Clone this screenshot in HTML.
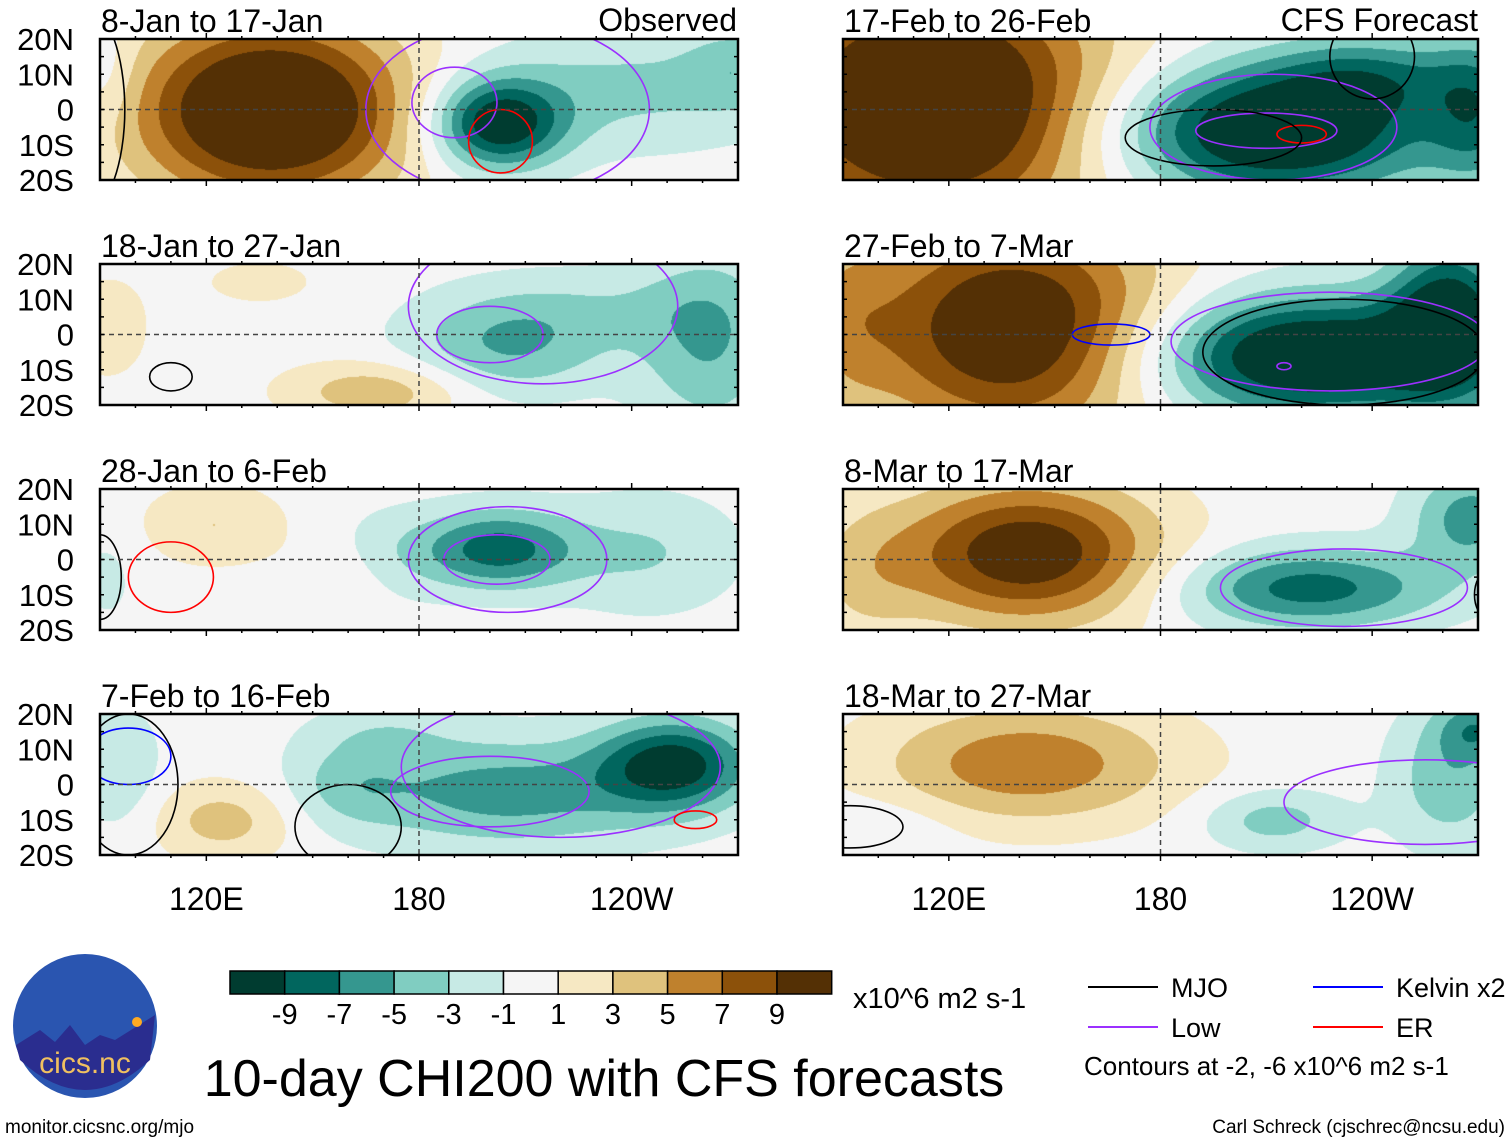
<!DOCTYPE html>
<html><head><meta charset="utf-8">
<style>
body{margin:0;background:#fff;width:1510px;height:1142px;position:relative;overflow:hidden;font-family:"Liberation Sans",sans-serif;}
canvas{position:absolute;}
svg{position:absolute;left:0;top:0;}
</style></head>
<body>
<canvas id="fields" width="1510" height="1142" style="left:0;top:0"></canvas>
<svg id="ov" width="1510" height="1142"></svg>
<script>
// ---- data ----
const panelTitles=["8-Jan to 17-Jan","18-Jan to 27-Jan","28-Jan to 6-Feb","7-Feb to 16-Feb","17-Feb to 26-Feb","27-Feb to 7-Mar","8-Mar to 17-Mar","18-Mar to 27-Mar"];
const levels=[-9,-7,-5,-3,-1,1,3,5,7,9];
const levelColors=["#003c30","#01665e","#35978f","#80cdc1","#c7eae5","#f5f5f5","#f6e8c3","#dfc27d","#bf812d","#8c510a","#543005"];
const latTicks=["20N","10N","0","10S","20S"];
const lonTicks=["120E","180","120W"];
const lonTickVals=[120,180,240];
// blobs: [lon, lat, amplitude, sigmaLon, sigmaLat]
const blobs0=[[138,0,14,27,18],[202,-4,-11,13,9],[240,6,-3.5,30,12],[270,12,-3,10,8],[92,10,-2,6,10]];
const blobs1=[[205,-3,-5,20,10],[262,-2,-5,14,18],[168,-16,4.5,18,6],[92,2,2.5,8,10],[135,15,1.5,15,6],[230,8,-2,25,8]];
const blobs2=[[202,3,-8,16,8],[245,2,-3,18,12],[122,10,3,14,8],[160,-5,1.5,12,8],[92,-5,-1.5,6,10],[170,0,-2,12,10]];
const blobs3=[[205,-2,-6,32,11],[252,6,-9.5,15,9],[125,-10,4,14,8],[95,5,-3,8,12],[160,0,-2.5,12,8],[170,15,-2,15,6]];
const blobs4=[[115,2,14,35,25],[212,-6,-13,32,13],[240,10,-5,20,8],[270,0,-6,10,15]];
const blobs5=[[138,2,12,30,22],[222,-6,-13,32,12],[262,5,-10,12,16],[90,5,3,10,20]];
const blobs6=[[142,2,11,26,14],[222,-8,-8,26,8],[268,12,-6,12,10],[95,-5,2.5,12,15]];
const blobs7=[[142,6,6.5,30,12],[212,-10,-4,14,6],[262,2,-4.5,12,14],[270,16,-5,8,6],[100,-12,-1.5,15,6]];
const panelBlobs=[blobs0,blobs1,blobs2,blobs3,blobs4,blobs5,blobs6,blobs7];
// contour ellipses: [lon, lat, rLon, rLat, color]
const contours0=[[190,2,12,10,"#9b30ff"],[205,0,40,25,"#9b30ff"],[203,-9,9,9,"#ff0000"],[85,0,12,30,"#000"]];
const contours1=[[200,0,15,8,"#9b30ff"],[215,8,38,22,"#9b30ff"],[110,-12,6,4,"#000"]];
const contours2=[[202,0,15,7,"#9b30ff"],[205,0,28,15,"#9b30ff"],[110,-5,12,10,"#ff0000"],[90,-5,6,12,"#000"]];
const contours3=[[200,-2,28,10,"#9b30ff"],[220,5,45,20,"#9b30ff"],[98,8,12,8,"#0000ff"],[258,-10,6,2.5,"#ff0000"],[160,-12,15,12,"#000"],[98,0,14,20,"#000"]];
const contours4=[[210,-6,20,5,"#9b30ff"],[212,-5,35,15,"#9b30ff"],[220,-7,7,2.5,"#ff0000"],[195,-8,25,8,"#000"],[240,15,12,12,"#000"]];
const contours5=[[228,-2,45,14,"#9b30ff"],[232,-5,40,15,"#000"],[166,0,11,3,"#0000ff"],[215,-9,2,1,"#9b30ff"]];
const contours6=[[232,-8,35,11,"#9b30ff"],[275,-10,6,8,"#000"]];
const contours7=[[255,-5,40,12,"#9b30ff"],[92,-12,15,6,"#000"]];
const panelContours=[contours0,contours1,contours2,contours3,contours4,contours5,contours6,contours7];

// ---- layout ----
const cols=[{x0:100,w:638},{x0:843,w:635}];
const rowsY=[39,264,489,714];
const PH=141;
function panelBox(i){const c=cols[i<4?0:1];return {x0:c.x0,w:c.w,y0:rowsY[i%4],h:PH};}
function xScale(b,lon){return b.x0+(lon-90)/180*b.w;}
function yScale(b,lat){return b.y0+(20-lat)/40*b.h;}
function hex(c){return [parseInt(c.substr(1,2),16),parseInt(c.substr(3,2),16),parseInt(c.substr(5,2),16)];}
const rgb=levelColors.map(hex);

const cv=document.getElementById('fields');const ctx=cv.getContext('2d');
const img=ctx.createImageData(1510,1142);
for(let p=0;p<8;p++){
  const b=panelBox(p);const bl=panelBlobs[p];
  for(let py=0;py<b.h;py++){const lat=20-py/b.h*40;
    for(let px=0;px<b.w;px++){const lon=90+px/b.w*180;let v=0;
      for(const q of bl){const dx=(lon-q[0])/q[3],dy=(lat-q[1])/q[4];v+=q[2]*Math.exp(-0.5*(dx*dx+dy*dy));}
      let k=0;while(k<levels.length&&v>levels[k])k++;const c=rgb[k];
      const idx=((b.y0+py)*1510+(b.x0+px))*4;img.data[idx]=c[0];img.data[idx+1]=c[1];img.data[idx+2]=c[2];img.data[idx+3]=255;}}
}
ctx.putImageData(img,0,0);

const NS='http://www.w3.org/2000/svg';const svg=document.getElementById('ov');
function el(tag,attrs,parent){const e=document.createElementNS(NS,tag);for(const k in attrs)e.setAttribute(k,attrs[k]);(parent||svg).appendChild(e);return e;}
function txt(s,attrs,parent){const e=el('text',attrs,parent);e.textContent=s;return e;}

for(let p=0;p<8;p++){
  const b=panelBox(p);
  const g=el('g',{});
  
  
  const cp=el('clipPath',{id:'cp'+p},g);el('rect',{x:b.x0,y:b.y0,width:b.w,height:b.h},cp);
  const cg=el('g',{'clip-path':'url(#cp'+p+')'},g);
  for(const c of panelContours[p]){
    const e=el('ellipse',{cx:xScale(b,c[0]),cy:yScale(b,c[1]),rx:c[2]/180*b.w,ry:c[3]/40*b.h,fill:'none',stroke:c[4],'stroke-width':1.6},cg);
    
    
  }
  el('line',{x1:b.x0,x2:b.x0+b.w,y1:yScale(b,0),y2:yScale(b,0),stroke:'#444','stroke-width':1.5,'stroke-dasharray':'5,4'},g);
  el('line',{x1:xScale(b,180),x2:xScale(b,180),y1:b.y0,y2:b.y0+b.h,stroke:'#444','stroke-width':1.5,'stroke-dasharray':'5,4'},g);
  el('rect',{x:b.x0,y:b.y0,width:b.w,height:b.h,fill:'none',stroke:'#000','stroke-width':2.5},g);
  for(let lon=100;lon<270;lon+=10){const x=xScale(b,lon);const L=lonTickVals.includes(lon)?6:3;
    el('line',{x1:x,x2:x,y1:b.y0-L,y2:b.y0,stroke:'#000','stroke-width':1.5},g);
    el('line',{x1:x,x2:x,y1:b.y0+b.h,y2:b.y0+b.h+L,stroke:'#000','stroke-width':1.5},g);}
  for(let lat=-15;lat<=15;lat+=5){const y=yScale(b,lat);
    el('line',{x1:b.x0,x2:b.x0+4,y1:y,y2:y,stroke:'#000','stroke-width':1.5},g);
    el('line',{x1:b.x0+b.w-4,x2:b.x0+b.w,y1:y,y2:y,stroke:'#000','stroke-width':1.5},g);}
  const t=txt(panelTitles[p],{x:b.x0+1,y:b.y0-7,'font-size':32},g);
  
  
  if(p<4){latTicks.forEach((s,i)=>{const lt=txt(s,{x:74,y:b.y0+i*b.h/4+11,'font-size':31,'text-anchor':'end'},g);
    
    });}
  if(p%4===3){lonTickVals.forEach((v,i)=>{const lt=txt(lonTicks[i],{x:xScale(b,v),y:910,'font-size':32,'text-anchor':'middle'},g);
    
    });}
}
txt("Observed",{x:737,y:31,'font-size':32,'text-anchor':'end'});
txt("CFS Forecast",{x:1478,y:31,'font-size':32,'text-anchor':'end'});

// colorbar
const cb=el('g',{});
levelColors.forEach((c,i)=>{el('rect',{x:230+i*54.7,y:971,width:54.7,height:23,fill:c,stroke:'#000','stroke-width':1.5},cb);});
levels.forEach((v,i)=>{txt(String(v),{x:230+(i+1)*54.7,y:1024,'font-size':29,'text-anchor':'middle'},cb);});
txt("x10^6 m2 s-1",{x:853,y:1008,'font-size':29},cb);
const ti=txt("10-day CHI200 with CFS forecasts",{x:604,y:1096,'font-size':52,'text-anchor':'middle'});

// legend
const lg=el('g',{});
[["MJO","#000",1088,987],["Low","#9b30ff",1088,1027],["Kelvin x2","#0000ff",1313,987],["ER","#ff0000",1313,1027]].forEach(a=>{
  el('line',{x1:a[2],x2:a[2]+70,y1:a[3],y2:a[3],stroke:a[1],'stroke-width':2},lg);
  txt(a[0],{x:a[2]+83,y:a[3]+10,'font-size':27},lg);});
txt("Contours at -2, -6 x10^6 m2 s-1",{x:1084,y:1075,'font-size':26},lg);
txt("Carl Schreck (cjschrec@ncsu.edu)",{x:1505,y:1133,'font-size':19,'text-anchor':'end'});
txt("monitor.cicsnc.org/mjo",{x:5,y:1133,'font-size':19});
// logo
const lo=el('g',{});
el('circle',{cx:85,cy:1026,r:72,fill:'#2a55b0'},lo);
el('path',{d:'M16,1045 L40,1030 L55,1042 L70,1025 L85,1045 L100,1035 L115,1040 L155,1015 L150,1060 Q85,1120 20,1060 Z',fill:'#2a2d8f'},lo);
el('circle',{cx:137,cy:1022,r:5,fill:'#ffaa22'},lo);
txt("cics.nc",{x:85,y:1073,'font-size':30,'text-anchor':'middle',fill:'#f0c060'},lo);
</script>
</body></html>
